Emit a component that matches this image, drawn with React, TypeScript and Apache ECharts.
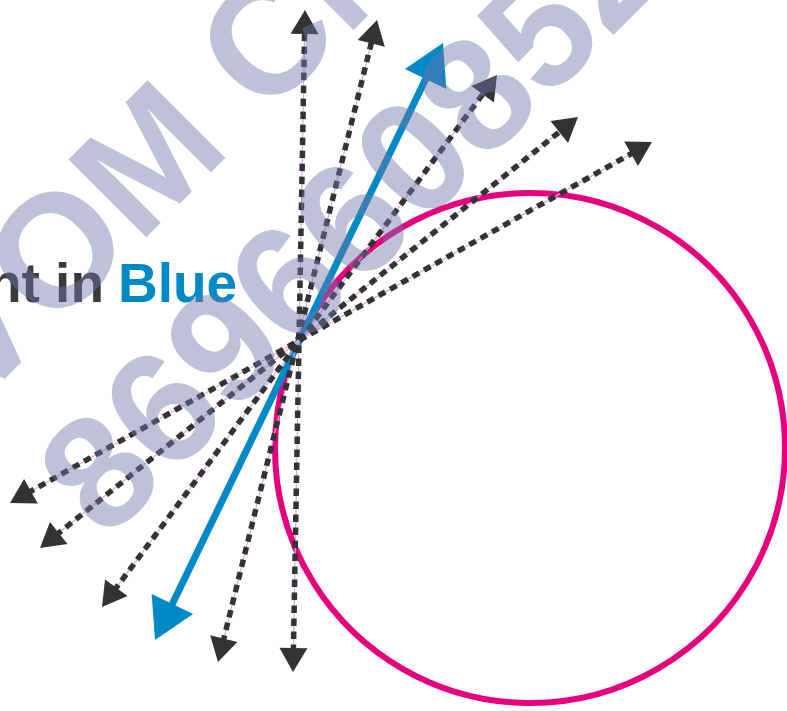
import React, { useEffect, useRef } from "react";
import * as echarts from "echarts";

const W = 787;
const H = 711;

// circle: centre x, centre y, radius (picture units)
const circleData = [[530, 448, 255]];
// tangent line: bottom tip x,y -> top tip x,y
const tangentData = [[155, 640, 443, 43]];
// dashed lines through the tangent point: bottom tip x,y -> top tip x,y
const dashedData = [
  [293, 672, 305, 10],
  [218, 662, 377, 20],
  [102, 607, 497, 75],
  [40, 548, 578, 117],
  [10, 503, 652, 142],
];

const labelLead = "Tangent in";
const labelBlue = "Blue";
const watermarkLetters = "VOM CN";
const watermarkDigits = "8696608521";

const MAGENTA = "#E6007E";
const BLUE = "#0089C7";
const DARK = "#333333";
const PINK = "#E2A6E2";
const WM = "rgba(113,117,168,0.45)";

function head(tip: number[], dir: number[], len: number, wid: number) {
  const bx = tip[0] - dir[0] * len;
  const by = tip[1] - dir[1] * len;
  const px = -dir[1];
  const py = dir[0];
  return [
    [tip[0], tip[1]],
    [bx + (px * wid) / 2, by + (py * wid) / 2],
    [bx - (px * wid) / 2, by - (py * wid) / 2],
  ];
}

function arrowRenderer(kind: "dash" | "blue") {
  return (params: any, api: any) => {
    const a = api.coord([api.value(0), api.value(1)]);
    const b = api.coord([api.value(2), api.value(3)]);
    const dx = b[0] - a[0];
    const dy = b[1] - a[1];
    const L = Math.hypot(dx, dy);
    const u = [dx / L, dy / L];
    const len = kind === "blue" ? 40 : 24;
    const wid = kind === "blue" ? 46 : 28;
    const s = [a[0] + u[0] * (len - 4), a[1] + u[1] * (len - 4)];
    const e = [b[0] - u[0] * (len - 4), b[1] - u[1] * (len - 4)];
    const color = kind === "blue" ? BLUE : DARK;
    const children: any[] = [];
    if (kind === "dash") {
      children.push({
        type: "line",
        shape: { x1: s[0], y1: s[1], x2: e[0], y2: e[1] },
        style: { stroke: PINK, lineWidth: 1.2 },
      });
      children.push({
        type: "line",
        shape: { x1: s[0], y1: s[1], x2: e[0], y2: e[1] },
        style: { stroke: DARK, lineWidth: 5.5, lineDash: [7.5, 5.5] },
      });
    } else {
      children.push({
        type: "line",
        shape: { x1: s[0], y1: s[1], x2: e[0], y2: e[1] },
        style: { stroke: BLUE, lineWidth: 7 },
      });
    }
    children.push({
      type: "polygon",
      shape: { points: head(a, [-u[0], -u[1]], len, wid) },
      style: { fill: color },
    });
    children.push({
      type: "polygon",
      shape: { points: head(b, u, len, wid) },
      style: { fill: color },
    });
    return { type: "group", children };
  };
}

export default function App() {
  const ref = useRef<HTMLDivElement>(null);
  useEffect(() => {
    if (!ref.current) return;
    const chart = echarts.init(ref.current, undefined, { renderer: "svg" });
    const font = '"Liberation Sans", Arial, Helvetica, sans-serif';
    chart.setOption({
      animation: false,
      backgroundColor: "#ffffff",
      grid: { left: 0, top: 0, right: 0, bottom: 0 },
      xAxis: { type: "value", min: 0, max: W, show: false },
      yAxis: { type: "value", min: 0, max: H, inverse: true, show: false },
      series: [
        {
          type: "custom",
          clip: false,
          data: circleData,
          encode: { x: 0, y: 1 },
          z: 2,
          renderItem: (params: any, api: any) => {
            const c = api.coord([api.value(0), api.value(1)]);
            const r = api.size([api.value(2), 0])[0];
            return {
              type: "circle",
              shape: { cx: c[0], cy: c[1], r },
              style: { fill: "none", stroke: MAGENTA, lineWidth: 6 },
            };
          },
        },
        {
          type: "custom",
          clip: false,
          data: tangentData,
          encode: { x: [0, 2], y: [1, 3] },
          z: 3,
          renderItem: arrowRenderer("blue"),
        },
        {
          type: "custom",
          clip: false,
          data: dashedData,
          encode: { x: [0, 2], y: [1, 3] },
          z: 4,
          renderItem: arrowRenderer("dash"),
        },
      ],
      graphic: [
        {
          type: "text",
          x: 104,
          y: 283,
          z: 5,
          style: {
            text: labelLead,
            fill: "#3a3a3a",
            fontSize: 55,
            fontWeight: "bold",
            fontFamily: font,
            align: "right",
            verticalAlign: "middle",
          },
        },
        {
          type: "text",
          x: 118,
          y: 283,
          z: 5,
          style: {
            text: labelBlue,
            fill: BLUE,
            fontSize: 55,
            fontWeight: "bold",
            fontFamily: font,
            align: "left",
            verticalAlign: "middle",
          },
        },
        {
          type: "text",
          x: -64,
          y: 369,
          rotation: Math.PI / 4,
          z: 100,
          style: {
            text: watermarkLetters,
            fill: WM,
            fontSize: 160,
            fontWeight: "bold",
            fontFamily: font,
            align: "left",
            verticalAlign: "middle",
          },
        },
        {
          type: "text",
          x: 67,
          y: 503,
          rotation: Math.PI / 4,
          z: 100,
          style: {
            text: watermarkDigits,
            fill: WM,
            fontSize: 160,
            fontWeight: "bold",
            fontFamily: font,
            align: "left",
            verticalAlign: "middle",
          },
        },
      ],
    });
    return () => chart.dispose();
  }, []);
  return (
    <div
      ref={ref}
      style={{ position: "fixed", left: 0, top: 0, width: W, height: H }}
    />
  );
}
